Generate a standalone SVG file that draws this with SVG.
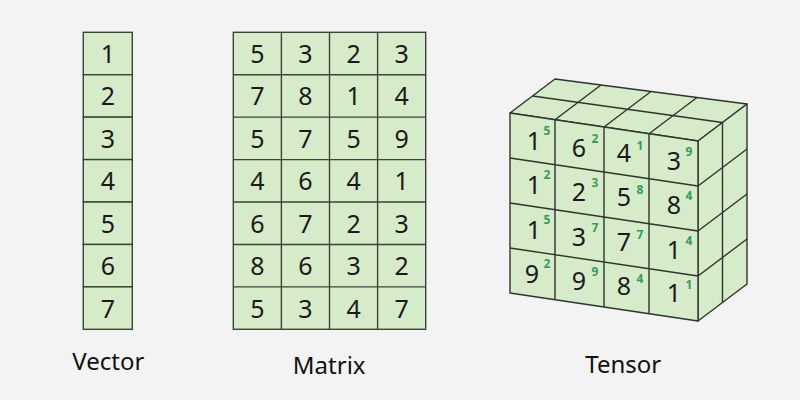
<svg xmlns="http://www.w3.org/2000/svg" width="800" height="400" viewBox="0 0 800 400">
<style>
.cell{fill:#d6ebc9;stroke:#3a4438;stroke-width:1.4}
.ln{fill:none;stroke:#2e352c;stroke-width:1.4;stroke-linejoin:round}
.face{fill:#d6ebc9;stroke:#2e352c;stroke-width:1.4;stroke-linejoin:round}
.d{font-family:"Noto Sans","DejaVu Sans",sans-serif;font-size:25px;fill:#1a1a1a;text-anchor:middle}
.s{font-family:"Noto Sans","DejaVu Sans",sans-serif;font-size:12px;font-weight:bold;fill:#3a9a5c;text-anchor:middle}
.lbl{font-family:"Noto Sans","DejaVu Sans",sans-serif;font-size:24px;fill:#111;text-anchor:middle}
</style>
<rect width="800" height="400" fill="#f3f3f3"/>
<g id="vector">
<rect class="cell" x="83.3" y="32.3" width="49" height="42.43"/>
<rect class="cell" x="83.3" y="74.73" width="49" height="42.43"/>
<rect class="cell" x="83.3" y="117.16" width="49" height="42.43"/>
<rect class="cell" x="83.3" y="159.59" width="49" height="42.43"/>
<rect class="cell" x="83.3" y="202.02" width="49" height="42.43"/>
<rect class="cell" x="83.3" y="244.45" width="49" height="42.43"/>
<rect class="cell" x="83.3" y="286.88" width="49" height="42.43"/>
<text class="d" x="107.8" y="63">1</text>
<text class="d" x="107.8" y="105.4">2</text>
<text class="d" x="107.8" y="147.8">3</text>
<text class="d" x="107.8" y="190.2">4</text>
<text class="d" x="107.8" y="232.7">5</text>
<text class="d" x="107.8" y="275.1">6</text>
<text class="d" x="107.8" y="317.5">7</text>
</g>
<g id="matrix">
<rect class="cell" x="233.3" y="32.3" width="192.4" height="297" />
<path class="ln" style="stroke:#3a4438" d="M281.4 32.3V329.3M329.5 32.3V329.3M377.6 32.3V329.3M233.3 74.73H425.7M233.3 117.16H425.7M233.3 159.59H425.7M233.3 202.02H425.7M233.3 244.45H425.7M233.3 286.88H425.7"/>
<g class="d">
<text x="257.4" y="63">5</text><text x="305.5" y="63">3</text><text x="353.6" y="63">2</text><text x="401.7" y="63">3</text>
<text x="257.4" y="105.4">7</text><text x="305.5" y="105.4">8</text><text x="353.6" y="105.4">1</text><text x="401.7" y="105.4">4</text>
<text x="257.4" y="147.8">5</text><text x="305.5" y="147.8">7</text><text x="353.6" y="147.8">5</text><text x="401.7" y="147.8">9</text>
<text x="257.4" y="190.2">4</text><text x="305.5" y="190.2">6</text><text x="353.6" y="190.2">4</text><text x="401.7" y="190.2">1</text>
<text x="257.4" y="232.7">6</text><text x="305.5" y="232.7">7</text><text x="353.6" y="232.7">2</text><text x="401.7" y="232.7">3</text>
<text x="257.4" y="275.1">8</text><text x="305.5" y="275.1">6</text><text x="353.6" y="275.1">3</text><text x="401.7" y="275.1">2</text>
<text x="257.4" y="317.5">5</text><text x="305.5" y="317.5">3</text><text x="353.6" y="317.5">4</text><text x="401.7" y="317.5">7</text>
</g>
</g>
<g id="tensor">
<polygon class="face" points="510,113 698,141 747,104 555,79"/>
<polygon class="face" points="698,141 747,104 747,284 698,321"/>
<polygon class="face" points="510,113 698,141 698,321 510,293"/>
<path class="ln" d="M532.5 96L722.5 122.5M555 119.7L601 85M604 127L651 91.5M649 133.7L697 97.5M722.5 122.5V302.5M698 186L747 149M698 231L747 194M698 276L747 239M555 119.7V299.7M604 127V307M649 133.7V313.7M510 158L698 186M510 203L698 231M510 248L698 276"/>
<g class="d">
<text x="534" y="150">1</text><text x="579" y="157">6</text><text x="624" y="162">4</text><text x="674" y="170">3</text>
<text x="534" y="194.3">1</text><text x="579" y="201.3">2</text><text x="624" y="206.3">5</text><text x="674" y="214.3">8</text>
<text x="534" y="238.6">1</text><text x="579" y="245.6">3</text><text x="624" y="250.6">7</text><text x="674" y="258.6">1</text>
<text x="532" y="283">9</text><text x="579" y="290">9</text><text x="624" y="295">8</text><text x="674" y="302">1</text>
</g>
<g class="s">
<text x="547" y="135">5</text><text x="595" y="143">2</text><text x="640" y="150">1</text><text x="689" y="156">9</text>
<text x="547" y="179.3">2</text><text x="595" y="187.3">3</text><text x="640" y="194.3">8</text><text x="689" y="200.3">4</text>
<text x="547" y="223.6">5</text><text x="595" y="231.6">7</text><text x="640" y="238.6">7</text><text x="689" y="244.6">4</text>
<text x="547" y="268">2</text><text x="595" y="276">9</text><text x="640" y="283">4</text><text x="689" y="289">1</text>
</g>
</g>
<g id="labels">
<text class="lbl" x="108.3" y="370">Vector</text>
<text class="lbl" x="329.2" y="374">Matrix</text>
<text class="lbl" x="623.3" y="373">Tensor</text>
</g>
</svg>
